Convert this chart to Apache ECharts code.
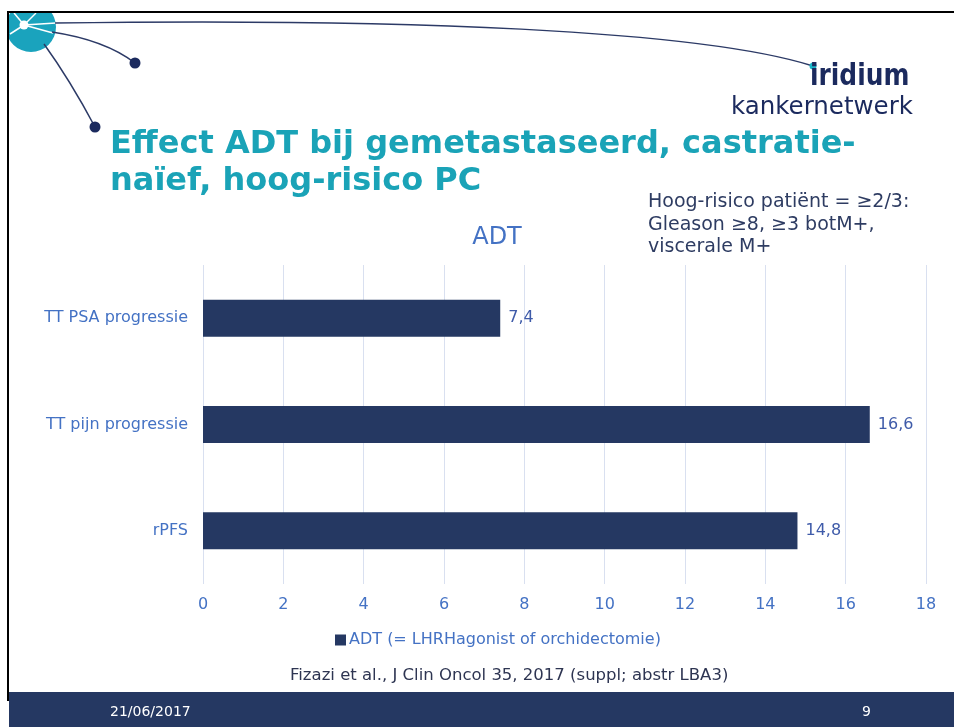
<!DOCTYPE html>
<html><head><meta charset="utf-8">
<script src="https://cdn.jsdelivr.net/npm/echarts@6/dist/echarts.min.js"></script>
<style>html,body{margin:0;padding:0;background:#fff}#c{width:954px;height:727px}</style>
</head><body><div id="c"></div>
<script>
const categories = ['TT PSA progressie', 'TT pijn progressie', 'rPFS'];
const values = [7.4, 16.6, 14.8];
const seriesName = 'ADT (= LHRHagonist of orchidectomie)';
const chartTitle = 'ADT';
const xTicks = {min: 0, max: 18, interval: 2};

const navy = '#253862';
const blue = '#4472C4';
const teal = '#1AA3B7';
const font = '"DejaVu Sans", Verdana, sans-serif';

const chart = echarts.init(document.getElementById('c'), null, {renderer: 'canvas'});
chart.setOption({
  backgroundColor: '#fff',
  animation: false,
  title: {text: chartTitle, left: 492, top: 221, textAlign: 'center',
    textStyle: {color: blue, fontSize: 24, fontWeight: 'normal', fontFamily: font}},
  legend: {left: 330, top: 627, itemWidth: 11, itemHeight: 11, itemGap: 4,
    icon: 'rect', data: [seriesName],
    textStyle: {color: blue, fontSize: 16, fontFamily: font, padding: [0,0,0,-2]}},
  grid: {left: 203, right: 28, top: 265, bottom: 143, containLabel: false},
  xAxis: {type: 'value', min: xTicks.min, max: xTicks.max, interval: xTicks.interval,
    axisLine: {show: false}, axisTick: {show: false},
    splitLine: {lineStyle: {color: '#D9E0F0', width: 1}},
    axisLabel: {color: blue, fontSize: 16, fontFamily: font, margin: 13}},
  yAxis: {type: 'category', data: categories, inverse: true,
    axisLine: {show: false}, axisTick: {show: false},
    axisLabel: {color: blue, fontSize: 16, fontFamily: font, margin: 15}},
  series: [{type: 'bar', name: seriesName, data: values, barWidth: 37,
    itemStyle: {color: navy},
    label: {show: true, position: 'right', distance: 8, color: '#3F5BA9', fontSize: 16, fontFamily: font,
      formatter: p => String(p.value).replace('.', ',')}}],
  graphic: [
    {type: 'rect', shape: {x: 7, y: 11, width: 960, height: 2}, style: {fill: '#000'}, z: 1},
    {type: 'rect', shape: {x: 7, y: 11, width: 2, height: 690}, style: {fill: '#000'}, z: 1},
    {type: 'group', z: 2, children: [
      {type: 'circle', shape: {cx: 31, cy: 27, r: 25}, style: {fill: '#1AA3BD'},
        clipPath: {type: 'rect', shape: {x: 9, y: 13, width: 60, height: 60}}},
      {type: 'line', shape: {x1: 24, y1: 25, x2: 14, y2: 13}, style: {stroke: '#fff', lineWidth: 1.5}},
      {type: 'line', shape: {x1: 24, y1: 25, x2: 36, y2: 13}, style: {stroke: '#fff', lineWidth: 1.5}},
      {type: 'line', shape: {x1: 24, y1: 25, x2: 56, y2: 23}, style: {stroke: '#fff', lineWidth: 1.5}},
      {type: 'line', shape: {x1: 24, y1: 25, x2: 53, y2: 33}, style: {stroke: '#fff', lineWidth: 1.5}},
      {type: 'line', shape: {x1: 24, y1: 25, x2: 10, y2: 34}, style: {stroke: '#fff', lineWidth: 1.5}},
      {type: 'circle', shape: {cx: 24, cy: 25, r: 4.5}, style: {fill: '#fff'}}
    ]},
    {type: 'bezierCurve', shape: {x1: 55, y1: 23, x2: 813, y2: 66, cpx1: 400, cpy1: 18, cpx2: 700, cpy2: 30},
      style: {stroke: '#2C3A66', lineWidth: 1.5, fill: null}, z: 2},
    {type: 'bezierCurve', shape: {x1: 52, y1: 32, x2: 135, y2: 63, cpx1: 105, cpy1: 40},
      style: {stroke: '#2C3A66', lineWidth: 1.5, fill: null}, z: 2},
    {type: 'bezierCurve', shape: {x1: 44, y1: 44, x2: 95, y2: 127, cpx1: 70, cpy1: 80},
      style: {stroke: '#2C3A66', lineWidth: 1.5, fill: null}, z: 2},
    {type: 'circle', shape: {cx: 135, cy: 63, r: 5.5}, style: {fill: '#1B2A5E'}, z: 3},
    {type: 'circle', shape: {cx: 95, cy: 127, r: 5.5}, style: {fill: '#1B2A5E'}, z: 3},
    {type: 'circle', shape: {cx: 813, cy: 66, r: 3.5}, style: {fill: '#1AB5C8'}, z: 3},
    {type: 'text', x: 810, y: 62, scaleX: 0.83, style: {text: 'iridium', fill: '#1B2A5E', font: 'bold 30px ' + font}, z: 3},
    {type: 'text', left: 731, top: 95, style: {text: 'kankernetwerk', fill: '#1B2A5E', font: '24.5px ' + font}, z: 3},
    {type: 'text', left: 110, top: 126, style: {text: 'Effect ADT bij gemetastaseerd, castratie-\nnaïef, hoog-risico PC',
      fill: teal, font: 'bold 32px ' + font, lineHeight: 37}, z: 3},
    {type: 'text', left: 648, top: 191, style: {text: 'Hoog-risico patiënt = ≥2/3:\nGleason ≥8, ≥3 botM+,\nviscerale M+',
      fill: '#2E3C62', font: '19px ' + font, lineHeight: 22.5}, z: 3},
    {type: 'text', left: 290, top: 667, style: {text: 'Fizazi et al., J Clin Oncol 35, 2017 (suppl; abstr LBA3)',
      fill: '#2E3552', font: '16.5px ' + font}, z: 3},
    {type: 'rect', shape: {x: 9, y: 692, width: 945, height: 35}, style: {fill: navy}, z: 1},
    {type: 'text', left: 110, top: 705, style: {text: '21/06/2017', fill: '#fff', font: '14px ' + font}, z: 3},
    {type: 'text', left: 862, top: 705, style: {text: '9', fill: '#fff', font: '14px ' + font}, z: 3}
  ]
});
</script></body></html>
